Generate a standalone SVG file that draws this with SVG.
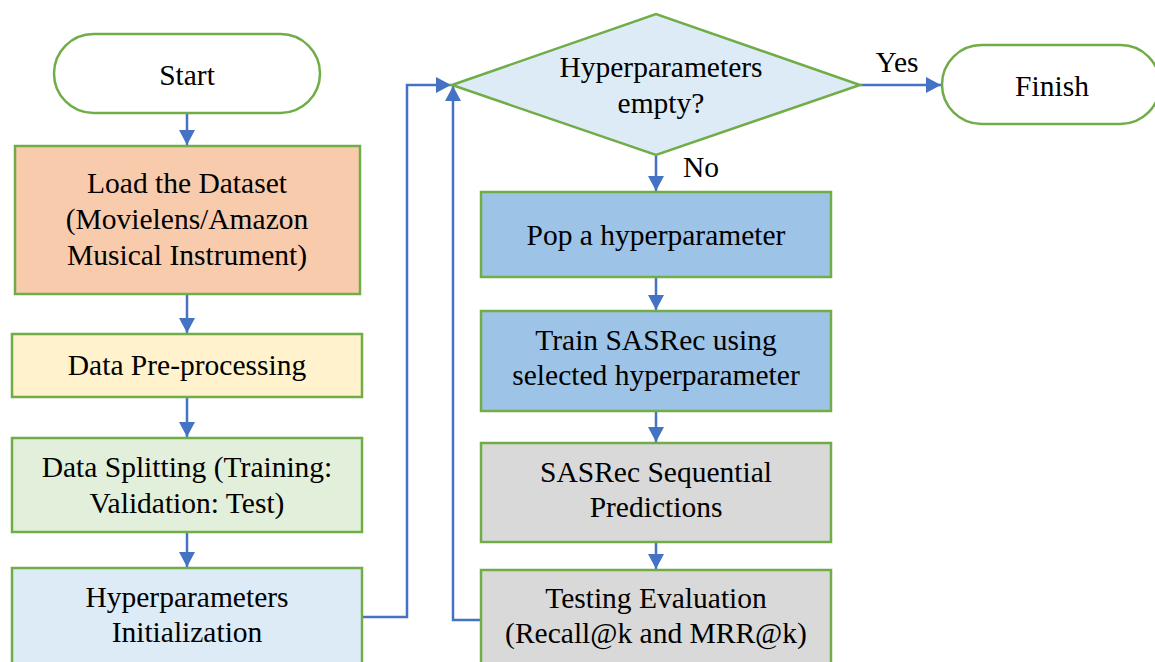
<svg xmlns="http://www.w3.org/2000/svg" width="1155" height="662" viewBox="0 0 1155 662">
<style>
  .node { stroke: #70AD47; stroke-width: 2.5; }
  .t { font-family: "Liberation Serif", "Times New Roman", serif; font-size: 29.5px; fill: #000; text-anchor: middle; }
  .conn { fill: none; stroke: #4472C4; stroke-width: 2.5; }
</style>
<defs>
  <marker id="arrow" markerUnits="userSpaceOnUse" markerWidth="16" markerHeight="16" refX="15" refY="8" orient="auto">
    <path d="M0,0 L15,8 L0,16 Z" fill="#4472C4"/>
  </marker>
</defs>
<rect width="1155" height="662" fill="#fff"/>

<g id="connectors">
  <line class="conn" x1="187" y1="113" x2="187" y2="145" marker-end="url(#arrow)"/>
  <line class="conn" x1="187" y1="294" x2="187" y2="333" marker-end="url(#arrow)"/>
  <line class="conn" x1="187" y1="397" x2="187" y2="437" marker-end="url(#arrow)"/>
  <line class="conn" x1="187" y1="532" x2="187" y2="567" marker-end="url(#arrow)"/>
  <polyline class="conn" points="362,617 407,617 407,85 451,85" marker-end="url(#arrow)"/>
  <polyline class="conn" points="481,620 453,620 453,86" marker-end="url(#arrow)"/>
  <line class="conn" x1="860" y1="85" x2="941" y2="85" marker-end="url(#arrow)"/>
  <line class="conn" x1="656" y1="155" x2="656" y2="191" marker-end="url(#arrow)"/>
  <line class="conn" x1="656" y1="277" x2="656" y2="310" marker-end="url(#arrow)"/>
  <line class="conn" x1="656" y1="411" x2="656" y2="442" marker-end="url(#arrow)"/>
  <line class="conn" x1="656" y1="542" x2="656" y2="569" marker-end="url(#arrow)"/>
  <text class="t" x="897" y="72">Yes</text>
  <text class="t" x="701" y="177">No</text>
</g>

<g id="start">
  <rect class="node" x="54" y="34" width="266" height="79" rx="39.5" fill="#fff"/>
  <text class="t" x="187" y="85">Start</text>
</g>

<g id="load">
  <rect class="node" x="15" y="146" width="345" height="148" fill="#F8CBAD"/>
  <text class="t" x="187" y="193">Load the Dataset</text>
  <text class="t" x="187" y="229">(Movielens/Amazon</text>
  <text class="t" x="187" y="265">Musical Instrument)</text>
</g>

<g id="preprocess">
  <rect class="node" x="12" y="334" width="350" height="63" fill="#FFF2CC"/>
  <text class="t" x="187" y="375">Data Pre-processing</text>
</g>

<g id="split">
  <rect class="node" x="12" y="438" width="350" height="94" fill="#E2EFDA"/>
  <text class="t" x="187" y="477">Data Splitting (Training:</text>
  <text class="t" x="187" y="513">Validation: Test)</text>
</g>

<g id="init">
  <rect class="node" x="12" y="568" width="350" height="110" fill="#DDEBF7"/>
  <text class="t" x="187" y="607">Hyperparameters</text>
  <text class="t" x="187" y="642">Initialization</text>
</g>

<g id="decision">
  <polygon class="node" points="452,85 656,14 860,85 656,155" fill="#DDEBF7"/>
  <text class="t" x="661" y="77">Hyperparameters</text>
  <text class="t" x="661" y="113">empty?</text>
</g>

<g id="finish">
  <rect class="node" x="942" y="45" width="218" height="79" rx="39.5" fill="#fff"/>
  <text class="t" x="1052" y="96">Finish</text>
</g>

<g id="pop">
  <rect class="node" x="481" y="192" width="350" height="85" fill="#9DC3E6"/>
  <text class="t" x="656" y="245">Pop a hyperparameter</text>
</g>

<g id="train">
  <rect class="node" x="481" y="311" width="350" height="100" fill="#9DC3E6"/>
  <text class="t" x="656" y="350">Train SASRec using</text>
  <text class="t" x="656" y="385">selected hyperparameter</text>
</g>

<g id="predict">
  <rect class="node" x="481" y="443" width="350" height="99" fill="#D9D9D9"/>
  <text class="t" x="656" y="482">SASRec Sequential</text>
  <text class="t" x="656" y="517">Predictions</text>
</g>

<g id="test">
  <rect class="node" x="481" y="570" width="350" height="110" fill="#D9D9D9"/>
  <text class="t" x="656" y="608">Testing Evaluation</text>
  <text class="t" x="656" y="643">(Recall@k and MRR@k)</text>
</g>
</svg>
